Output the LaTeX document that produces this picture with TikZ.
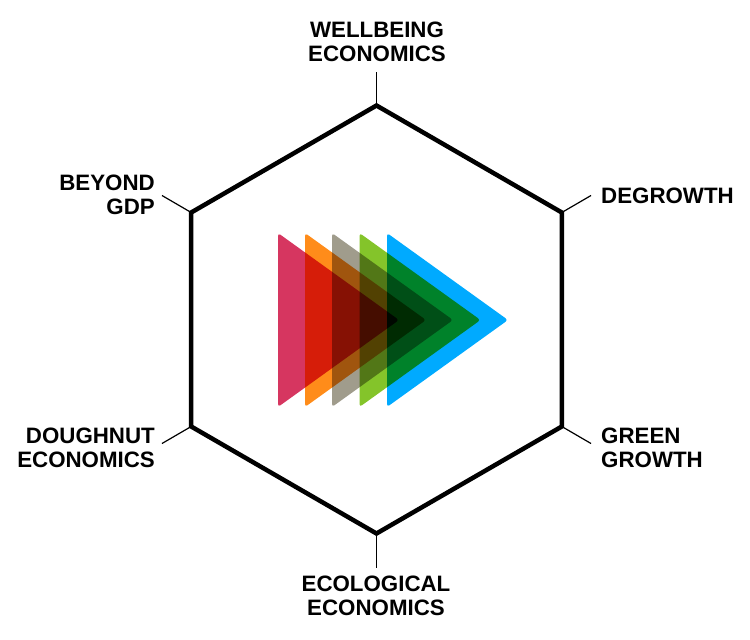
\documentclass[tikz,border=0pt]{standalone}
\usepackage{fontspec}
\setmainfont{Liberation Sans}
\begin{document}
\begin{tikzpicture}[x=1pt,y=-1pt,
  hexline/.style={line width=4.5pt,line join=miter},
  tickline/.style={line width=1.2pt},
  lbl/.style={inner sep=0pt,font=\bfseries\fontsize{22.3}{24}\selectfont},
  tri/.style={rounded corners=3pt}]
\useasboundingbox (0,0) rectangle (750,640);
\definecolor{cpink}{HTML}{D63660}
\definecolor{corange}{HTML}{FF8C1A}
\definecolor{cgray}{HTML}{A09C8C}
\definecolor{cgreen}{HTML}{84C42A}
\definecolor{cblue}{HTML}{00AAFF}
% hexagon vertices
\coordinate (vT) at (376.5,105.5);
\coordinate (vUR) at (561.8,212.5);
\coordinate (vLR) at (561.8,426.5);
\coordinate (vB) at (376.5,533.5);
\coordinate (vLL) at (191.2,426.5);
\coordinate (vUL) at (191.2,212.5);
% tick ends
\coordinate (tT) at (376.5,72);
\coordinate (tUR) at (591,195.5);
\coordinate (tLR) at (591,443.5);
\coordinate (tB) at (376.5,568);
\coordinate (tLL) at (162,443.5);
\coordinate (tUL) at (162,195.5);
% triangles
\begin{scope}[blend group=multiply]
\fill[cpink,tri] (278,233) -- (399,320) -- (278,407) -- cycle;
\fill[corange,tri] (305,233) -- (426,320) -- (305,407) -- cycle;
\fill[cgray,tri] (332,233) -- (453,320) -- (332,407) -- cycle;
\fill[cgreen,tri] (359.5,233) -- (480.5,320) -- (359.5,407) -- cycle;
\fill[cblue,tri] (387,233) -- (508,320) -- (387,407) -- cycle;
\end{scope}
\draw[hexline] (vT) -- (vUR) -- (vLR) -- (vB) -- (vLL) -- (vUL) -- cycle;
\draw[tickline] (vT) -- (tT);
\draw[tickline] (vUR) -- (tUR);
\draw[tickline] (vLR) -- (tLR);
\draw[tickline] (vB) -- (tB);
\draw[tickline] (vLL) -- (tLL);
\draw[tickline] (vUL) -- (tUL);
% labels (anchor base = baseline of last line)
\node[lbl,align=center,anchor=base] (lW) at (377,61) {WELLBEING\\ECONOMICS};
\node[lbl,align=left,anchor=base west] (lD) at (601,203) {DEGROWTH};
\node[lbl,align=left,anchor=base west] (lG) at (601,467) {GREEN\\GROWTH};
\node[lbl,align=center,anchor=base] (lE) at (376,615) {ECOLOGICAL\\ECONOMICS};
\node[lbl,align=right,anchor=base east] (lDo) at (155,467) {DOUGHNUT\\ECONOMICS};
\node[lbl,align=right,anchor=base east] (lB) at (155,214) {BEYOND\\GDP};
\end{tikzpicture}
\end{document}
